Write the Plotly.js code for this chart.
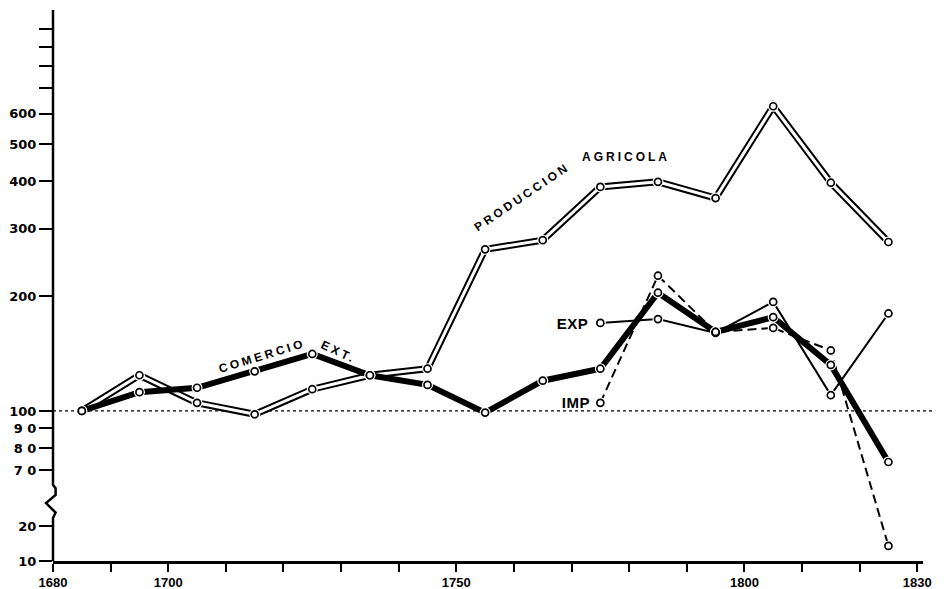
<!DOCTYPE html>
<html>
<head>
<meta charset="utf-8">
<script src="https://cdn.plot.ly/plotly-3.0.1.min.js"></script>
<style>
html,body{margin:0;padding:0;background:#fff;}
#chart{width:944px;height:589px;}
.annotation-text{letter-spacing:3px;}
</style>
</head>
<body>
<div id="chart"></div>
<script>
// ---- data (index values) ----
const years = [1685,1695,1705,1715,1725,1735,1745,1755,1765,1775,1785,1795,1805,1815,1825];
const produccionAgricola = [100,124,105,98,114,124,129,265,280,386,398,361,628,396,277];
const comercioExterior = [100,112,115,127,141,124,117,99,120,129,204,161,176,132,73.5];
const tradeYears = [1775,1785,1795,1805,1815,1825];
const exportaciones = [170,174,160,193,110,180];
const importaciones = [105,226,161,165,144,13.5];

const xTickVals = [1680,1690,1700,1710,1720,1730,1740,1750,1760,1770,1780,1790,1800,1810,1820,1830];
const xTickText = ['1680','','1700','','','','','1750','','','','','1800','','','1830'];
const yTickVals = [10,20,70,80,90,100,200,300,400,500,600,700,800,900,1000];
const yTickText = ['10','20','7 0','8 0','9 0','100','200','300','400','500','600','','','',''];

// broken logarithmic axis: upper part log scale, lower part (10-20) compressed
const BREAK = 50;
const LOW_BASE = 1.607, LOW_K = 0.3037;
function scaleY(v){
  return v >= BREAK ? Math.log10(v) : LOW_BASE + LOW_K*Math.log10(v/10);
}
const tr = arr => arr.map(scaleY);

const traces = [];
// Produccion agricola: double (outlined) line
traces.push({x:years, y:tr(produccionAgricola), mode:'lines', line:{color:'#000', width:7}, hoverinfo:'skip'});
traces.push({x:years, y:tr(produccionAgricola), mode:'lines', line:{color:'#fff', width:3}, hoverinfo:'skip'});
// Comercio exterior: heavy line
traces.push({x:years, y:tr(comercioExterior), mode:'lines', line:{color:'#000', width:6}, hoverinfo:'skip'});
// Exportaciones: thin line
traces.push({x:tradeYears, y:tr(exportaciones), mode:'lines', line:{color:'#000', width:2}, hoverinfo:'skip'});
// Importaciones: dashed line
traces.push({x:tradeYears, y:tr(importaciones), mode:'lines', line:{color:'#000', width:2, dash:'9px,5px'}, hoverinfo:'skip'});

// gaps around the circles, then open circles
const allSeries = [[years, produccionAgricola],[years, comercioExterior],[tradeYears, exportaciones],[tradeYears, importaciones]];
allSeries.forEach(s=>{
  traces.push({x:s[0], y:tr(s[1]), mode:'markers', marker:{symbol:'circle', size:11, color:'#fff', line:{width:0}}, hoverinfo:'skip'});
});
allSeries.forEach(s=>{
  traces.push({x:s[0], y:tr(s[1]), mode:'markers', marker:{symbol:'circle', size:7, color:'#fff', line:{width:1.7, color:'#000'}}, hoverinfo:'skip'});
});

// y axis drawn as a path with a break (paper coordinates)
const yAxisPath = 'M 0 1 L 0 0.138 L 0.003 0.132 L 0.003 0.120 L -0.008 0.105 L 0.003 0.088 L 0 0.078 L 0 0';

const boldFamily = 'Liberation Sans, Arial, sans-serif';
const annFont = {family:boldFamily, size:12, color:'#000', weight:700};
const labFont = {family:boldFamily, size:15, color:'#000', weight:700};
const layout = {
  width:944, height:589,
  margin:{l:53, r:21, t:10, b:28},
  paper_bgcolor:'#fff', plot_bgcolor:'#fff',
  showlegend:false,
  xaxis:{
    range:[1680,1831], showgrid:false, zeroline:false,
    showline:true, linecolor:'#000', linewidth:2.5,
    ticks:'outside', ticklen:8, tickwidth:2, tickcolor:'#000',
    tickvals:xTickVals, ticktext:xTickText,
    tickfont:{family:'Liberation Sans Narrow, Liberation Sans, Arial, sans-serif', size:13, color:'#000', weight:700}
  },
  yaxis:{
    range:[scaleY(10), 3.05], showgrid:false, zeroline:false,
    showline:false,
    ticks:'outside', ticklen:13, tickwidth:2, tickcolor:'#000',
    tickvals:yTickVals.map(scaleY), ticktext:yTickText,
    tickfont:{family:'DejaVu Sans, sans-serif', size:13, color:'#000', weight:700}
  },
  shapes:[
    {type:'path', xref:'paper', yref:'paper', path:yAxisPath, line:{color:'#000', width:2.5}},
    {type:'line', xref:'paper', yref:'y', x0:0, x1:1.014, y0:scaleY(100), y1:scaleY(100), line:{color:'#000', width:1.3, dash:'dot'}, layer:'below'}
  ],
  annotations:[
    {x:1761.4, y:2.560, text:'PRODUCCION', textangle:-34, showarrow:false, font:annFont},
    {x:1779.5, y:2.665, text:'AGRICOLA', showarrow:false, font:annFont},
    {x:1716.3, y:2.144, text:'COMERCIO', textangle:-17, showarrow:false, font:annFont},
    {x:1729.6, y:2.154, text:'EXT.', textangle:25, showarrow:false, font:annFont},
    {x:1773.9, y:2.230, text:'EXP', xanchor:'right', showarrow:false, font:labFont},
    {x:1774.3, y:2.023, text:'IMP', xanchor:'right', showarrow:false, font:labFont}
  ]
};

Plotly.newPlot('chart', traces, layout, {staticPlot:true, displayModeBar:false}).then(()=>{
  document.querySelectorAll('#chart .annotation-text').forEach(t=>{
    if (t.textContent==='EXP' || t.textContent==='IMP') t.style.letterSpacing='0.5px';
  });
});
</script>
</body>
</html>
